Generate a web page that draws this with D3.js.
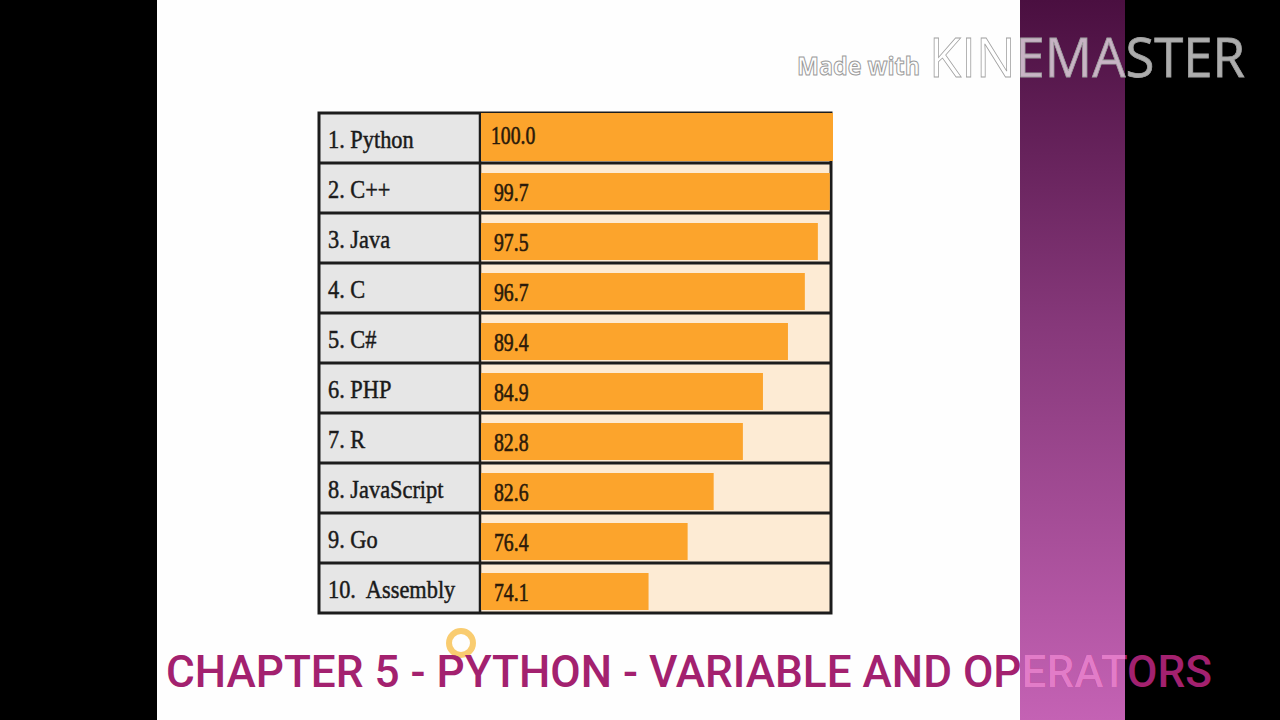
<!DOCTYPE html>
<html><head><meta charset="utf-8">
<script src="https://cdn.jsdelivr.net/npm/d3@7"></script>
<style>html,body{margin:0;padding:0;background:#000;overflow:hidden}</style>
</head><body>
<svg id="c" width="1280" height="720"></svg>
<script>
// ---- data ----
const languages = ["Python","C++","Java","C","C#","PHP","R","JavaScript","Go","Assembly"];
const scores = [100.0, 99.7, 97.5, 96.7, 89.4, 84.9, 82.8, 82.6, 76.4, 74.1];
// drawn bar length as % of the full cell
const barLengths = [100, 99.1, 95.7, 92.0, 87.2, 80.1, 74.4, 66.1, 58.7, 47.6];
const titleText = "CHAPTER 5 - PYTHON - VARIABLE AND OPERATORS";

(function(){
const svg = d3.select("#c");
const defs = svg.append("defs");

// backgrounds
svg.append("rect").attr("x",0).attr("y",0).attr("width",1280).attr("height",720).attr("fill","#000");
svg.append("rect").attr("x",157).attr("y",0).attr("width",863).attr("height",720).attr("fill","#fefefe");
const g = defs.append("linearGradient").attr("id","band").attr("x1",0).attr("y1",0).attr("x2",0).attr("y2",1);
g.append("stop").attr("offset","0%").attr("stop-color","#4a0f40");
g.append("stop").attr("offset","45%").attr("stop-color","#86387a");
g.append("stop").attr("offset","100%").attr("stop-color","#c462b4");
svg.append("rect").attr("x",1020).attr("y",0).attr("width",105).attr("height",720).attr("fill","url(#band)");

// ---- table chart ----
const xLeft = 319, xMid = 480, xRight = 831, yTop = 113, yBottom = 613;
const y = d3.scaleBand().domain(languages).range([yTop, yBottom]).paddingInner(0);
const x = d3.scaleLinear().domain([0, 100]).range([xMid + 1, 833]);
const chart = svg.append("g");

chart.append("rect").attr("x",xLeft).attr("y",yTop).attr("width",xMid-xLeft).attr("height",yBottom-yTop).attr("fill","#e6e6e6");
chart.append("rect").attr("x",xMid).attr("y",yTop).attr("width",xRight-xMid).attr("height",yBottom-yTop).attr("fill","#fdebd4");

// grid lines
chart.selectAll("line.h").data(languages.slice(1)).enter().append("line")
  .attr("x1",xLeft).attr("x2",xRight).attr("y1",d=>y(d)).attr("y2",d=>y(d))
  .attr("stroke","#1c1c1c").attr("stroke-width",3);
chart.append("line").attr("x1",xMid).attr("x2",xMid).attr("y1",yTop).attr("y2",yBottom)
  .attr("stroke","#1c1c1c").attr("stroke-width",2.5);
chart.append("rect").attr("x",xLeft).attr("y",yTop).attr("width",xRight-xLeft).attr("height",yBottom-yTop)
  .attr("fill","none").attr("stroke","#1c1c1c").attr("stroke-width",3);

const rows = chart.selectAll("g.row").data(languages).enter().append("g").attr("class","row");
rows.append("rect")
  .attr("x", x(0))
  .attr("y", (d,i) => i === 0 ? y(d) : y(d) + 10)
  .attr("width", (d,i) => x(barLengths[i]) - x(0))
  .attr("height", (d,i) => i === 0 ? y.bandwidth() - 2 : y.bandwidth() - 13)
  .attr("fill", "#fca42c");

// labels
rows.append("text")
  .attr("transform",(d,i)=>`translate(328,${y(d)+35}) scale(0.86,1)`)
  .attr("font-family","'Liberation Serif', serif").attr("font-size",26)
  .attr("fill","#1a1a1a").attr("stroke","#1a1a1a").attr("stroke-width",0.5)
  .text((d,i)=>`${i+1}.${i===9?"\u00a0":""} ${d}`);

// values
rows.append("text")
  .attr("transform",(d,i)=>`translate(${i===0?491:494},${y(d)+(i===0?31:38)}) scale(0.76,1)`)
  .attr("font-family","'Liberation Serif', serif").attr("font-size",26)
  .attr("fill","#2a1a0a").attr("stroke","#2a1a0a").attr("stroke-width",0.6)
  .text((d,i)=>scores[i].toFixed(1));

// cursor highlight ring
svg.append("circle").attr("cx",461).attr("cy",643).attr("r",12)
  .attr("fill","none").attr("stroke","#f7b733").attr("stroke-width",6).attr("opacity",0.7);

// ---- title ----
defs.append("clipPath").attr("id","bandclip").append("rect").attr("x",1020).attr("y",0).attr("width",105).attr("height",720);
const title = (sel, fill) => sel.append("text")
  .attr("x",166).attr("y",687)
  .attr("textLength",1046).attr("lengthAdjust","spacingAndGlyphs")
  .attr("font-family","Roboto, sans-serif").attr("font-size",45).attr("font-weight",500)
  .attr("fill",fill).text(titleText);
title(svg, "#a3216f");
title(svg.append("g").attr("clip-path","url(#bandclip)"), "#e27cc8");

// ---- watermark ----
svg.append("text").attr("x",797).attr("y",75)
  .attr("font-family","'Open Sans', sans-serif").attr("font-weight",700).attr("font-size",25)
  .attr("textLength",123).attr("lengthAdjust","spacingAndGlyphs")
  .attr("fill","#ffffff").attr("fill-opacity",0.85).attr("stroke","#9a9a9a").attr("stroke-width",1)
  .text("Made with");
svg.append("text").attr("x",929).attr("y",77)
  .attr("font-family","'Open Sans', sans-serif").attr("font-weight",400).attr("font-size",55)
  .attr("textLength",316).attr("lengthAdjust","spacingAndGlyphs")
  .attr("fill","#ffffff").attr("fill-opacity",0.68).attr("stroke","#a0a0a0").attr("stroke-width",0.8)
  .text("KINEMASTER");
})();
</script>
</body></html>
